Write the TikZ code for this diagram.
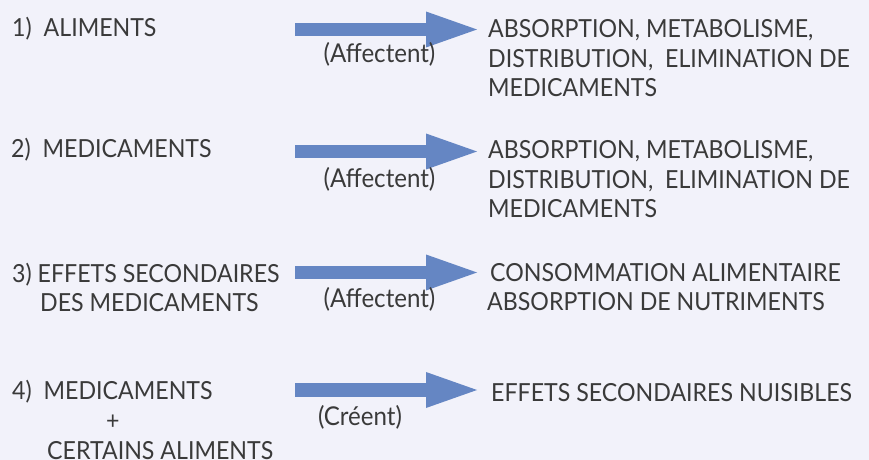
\documentclass[tikz,border=0pt]{standalone}
\usepackage{fontspec}
\setmainfont{Lato}[FakeStretch=0.93]
\usetikzlibrary{arrows.meta}
\definecolor{bgcol}{RGB}{242,242,250}
\definecolor{arrcol}{RGB}{101,134,195}
\definecolor{txtcol}{RGB}{58,58,58}

\begin{document}
\begin{tikzpicture}[x=1bp, y=-1bp,
    item/.style = {anchor=base west, inner sep=0pt, text=txtcol, align=left, font=\fontsize{25}{30}\selectfont},
    verb/.style = {anchor=base, inner sep=0pt, text=txtcol, font=\fontsize{26}{30}\selectfont},
    big/.style = {draw=arrcol, line width=13bp, -{Triangle[length=51bp, width=36bp, line width=0pt]}}]

    \fill[bgcol] (0,0) rectangle (869,460);
    \useasboundingbox (0,0) rectangle (869,460);

    % causes (base = last line)
    \node[item] (c1) at (12,37) {1)\ \ ALIMENTS};
    \node[item] (c2) at (11,158) {2)\ \ MEDICAMENTS};
    \node[item] (c3) at (12,312) {3) EFFETS SECONDAIRES\\\hspace*{28bp}DES MEDICAMENTS};
    \node[item] (c4) at (12,459) {4)\ \ MEDICAMENTS\\\hspace*{94bp}+\\\hspace*{35bp}CERTAINS ALIMENTS};

    % effects
    \node[item] (e1) at (488,97) {ABSORPTION, METABOLISME,\\DISTRIBUTION,\ \ ELIMINATION DE\\MEDICAMENTS};
    \node[item] (e2) at (488,218) {ABSORPTION, METABOLISME,\\DISTRIBUTION,\ \ ELIMINATION DE\\MEDICAMENTS};
    \node[item] (e3) at (490,311) {CONSOMMATION ALIMENTAIRE\\\hspace*{-3bp}ABSORPTION DE NUTRIMENTS};
    \node[item] (e4) at (491,401) {EFFETS SECONDAIRES NUISIBLES};

    % arrows
    \coordinate (s1) at (295,29.5);   \coordinate (t1) at (477,29.5);
    \coordinate (s2) at (295,151.5);  \coordinate (t2) at (477,151.5);
    \coordinate (s3) at (295,272.5);  \coordinate (t3) at (477,272.5);
    \coordinate (s4) at (295,390);    \coordinate (t4) at (477,390);
    \draw[big] (s1) -- (t1);
    \draw[big] (s2) -- (t2);
    \draw[big] (s3) -- (t3);
    \draw[big] (s4) -- (t4);

    \node[verb] (v1) at (379.5,63) {(Affectent)};
    \node[verb] (v2) at (379.5,188) {(Affectent)};
    \node[verb] (v3) at (379.5,308) {(Affectent)};
    \node[verb] (v4) at (360,425) {(Créent)};

\end{tikzpicture}
\end{document}
